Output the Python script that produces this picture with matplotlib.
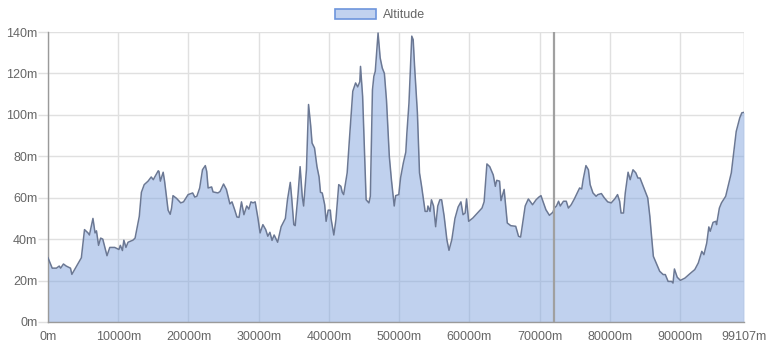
import matplotlib
matplotlib.use("Agg")
import matplotlib.pyplot as plt
from matplotlib.patches import Patch
from matplotlib.ticker import FixedLocator, FuncFormatter

plt.rcParams['font.family'] = ['Liberation Sans', 'DejaVu Sans']

# distance along route (km) and altitude (m)
dist_km = [0, 0.6, 1.2, 1.6, 1.8, 2.2, 2.6, 3.2, 3.4, 4.75, 5.2, 5.7, 5.9, 6.4, 6.7, 6.9,
           7.2, 7.5, 7.8, 8.4, 8.8, 9.5, 10.1, 10.3, 10.6, 10.8, 11.1, 11.4, 12.1, 12.4,
           13.0, 13.3, 13.7, 14.25, 14.7, 15.0, 15.2, 15.7, 15.8, 16.0, 16.4, 16.6, 17.1,
           17.4, 17.6, 17.8, 18.3, 18.9, 19.3, 19.95, 20.6, 20.9, 21.2, 21.6, 22.0, 22.4,
           22.6, 22.8, 23.3, 23.5, 24.2, 24.5, 25.0, 25.4, 25.9, 26.2, 26.6, 26.9, 27.2,
           27.55, 27.9, 28.3, 28.6, 28.9, 29.2, 29.5, 29.9, 30.2, 30.6, 31.0, 31.3, 31.6,
           31.9, 32.2, 32.7, 33.2, 33.8, 34.1, 34.5, 34.7, 35.0, 35.2, 35.6, 35.9, 36.2,
           36.4, 36.8, 37.1, 37.4, 37.6, 37.95, 38.3, 38.6, 38.8, 39.05, 39.4, 39.6, 39.9,
           40.2, 40.3, 40.7, 41.0, 41.4, 41.7, 41.9, 42.1, 42.6, 42.95, 43.4, 43.8, 44.1,
           44.4, 44.5, 44.8, 45.1, 45.3, 45.7, 45.9, 46.2, 46.4, 46.6, 47.0, 47.3, 47.6,
           47.9, 48.2, 48.6, 48.9, 49.3, 49.5, 49.95, 50.2, 50.6, 50.95, 51.1, 51.4, 51.8,
           52.0, 52.2, 52.6, 52.9, 53.2, 53.7, 54.0, 54.1, 54.4, 54.6, 54.9, 55.2, 55.5,
           55.8, 56.05, 56.4, 56.8, 57.1, 57.5, 57.95, 58.4, 58.8, 59.1, 59.4, 59.6, 59.9,
           60.5, 61.8, 62.1, 62.5, 62.9, 63.4, 63.7, 63.9, 64.3, 64.5, 64.95, 65.4, 65.9,
           66.6, 67.0, 67.3, 67.95, 68.4, 69.0, 69.5, 69.9, 70.2, 70.4, 70.9, 71.4, 71.9,
           72.1, 72.4, 72.7, 72.95, 73.4, 73.8, 74.1, 74.5, 74.95, 75.4, 75.7, 76.0, 76.2,
           76.6, 76.95, 77.2, 77.6, 78.05, 78.3, 78.8, 79.2, 79.7, 80.2, 80.7, 81.1, 81.4,
           81.6, 81.95, 82.2, 82.6, 82.9, 83.3, 83.7, 84.0, 84.3, 84.8, 85.4, 85.7, 85.9,
           86.2, 86.6, 87.1, 87.6, 87.9, 88.3, 88.8, 89.0, 89.2, 89.6, 90.05, 90.7, 91.4,
           92.1, 92.6, 93.1, 93.4, 93.8, 94.1, 94.3, 94.7, 95.1, 95.2, 95.6, 95.9, 96.5,
           97.0, 97.3, 97.7, 98.0, 98.5, 98.8, 99.107]
altitude = [31, 26, 26, 27, 26, 28, 27, 26, 23, 31, 44.6, 43, 42, 50, 43, 44,
            37, 40.5, 40, 32, 36, 36, 35, 37, 34.5, 39.5, 36, 38.5, 39.5, 40.5,
            51, 62.6, 66.3, 68, 70, 68.7, 70, 73, 72.7, 68, 72.3, 68, 54,
            52, 55, 61, 59.7, 57.5, 58, 61.5, 62.3, 60.3, 60.7, 64.7, 73.5, 75.5,
            72.7, 64.7, 65.2, 62.8, 62.3, 63, 66.6, 64, 57, 58, 54, 50.7, 50.5,
            58, 51.8, 56, 54.5, 58, 57.5, 58, 50, 43, 47, 44.6, 41.4, 43.3,
            39.4, 42, 38.5, 46, 50, 59, 67.4, 60, 47, 46.5, 61.5, 75, 60.7,
            56, 73.5, 105, 95, 86.4, 84, 75, 70, 62.6, 62.3, 56.6, 48.6, 54,
            54, 50, 42, 49.4, 66.3, 65.5, 62.6, 61.5, 72, 89.6, 111.4, 115.4, 113.5,
            116, 123.4, 109, 78.4, 59, 57.5, 60.7, 112, 118.6, 121, 139.5, 127.5, 122.6,
            120, 107, 80, 68.7, 56, 61, 61.5, 69.5, 76.8, 82, 91, 105.7, 138,
            136.3, 123.4, 101, 72, 65.5, 53.4, 53.4, 56, 53.4, 59, 56, 46, 56,
            59, 59, 51.3, 39.7, 34.6, 39.7, 50, 55.5, 58, 51.8, 52.6, 59.4, 48.6,
            50.2, 55, 58, 76.3, 75, 71, 65.5, 68.4, 68, 58.6, 64, 47.8, 46.5,
            46.2, 41.4, 41, 56, 59.4, 56.6, 59, 60.3, 61, 59, 54.2, 51.5, 53,
            55, 56, 58.3, 56, 58.3, 58.3, 55, 56.6, 59.4, 62.6, 64.7, 64.2, 68.7,
            75.5, 73.5, 66.3, 62.3, 60.7, 61.5, 62, 60, 58, 57.5, 59.4, 61.5, 58.3,
            52.6, 52.6, 62.3, 72.3, 68.7, 73.5, 72, 69.5, 69.5, 65.2, 59.9, 51, 43,
            31.7, 28.5, 24.5, 22.9, 22.9, 19.6, 19.6, 18.8, 25.6, 21.6, 20.1, 21.2, 23.3,
            25.3, 28.5, 34.1, 32.5, 38.1, 45.9, 43.8, 48.1, 48.6, 47, 55, 57.5, 60.7,
            67.9, 72, 83.2, 92, 98.5, 101, 101.2]
total_m = 99107
x_ticks = [0, 10000, 20000, 30000, 40000, 50000, 60000, 70000, 80000, 90000, 99107]
y_ticks = [0, 20, 40, 60, 80, 100, 120, 140]
marker_m = 72100
series_label = "Altitude"

dist_m = [d * 1000 for d in dist_km]

fig = plt.figure(figsize=(7.7, 3.5), dpi=100)
ax = fig.add_axes([48 / 770, 28 / 350, 696 / 770, 290 / 350])

legend_fill = '#c1d2ef'
fill_rgba = (0.51, 0.647, 0.875, 0.5)
line_c = '#6b7894'
grid_c = '#e0e0e0'
ax.fill_between(dist_m, altitude, 0, color=fill_rgba, lw=0, zorder=2)
ax.plot(dist_m, altitude, color=line_c, lw=1.1, zorder=3)
ax.axvline(marker_m, color='#a0a0a0', lw=1.6, zorder=4)

ax.set_xlim(0, total_m)
ax.set_ylim(0, 140)
ax.xaxis.set_major_locator(FixedLocator(x_ticks))
ax.yaxis.set_major_locator(FixedLocator(y_ticks))
ax.xaxis.set_major_formatter(FuncFormatter(lambda v, p: f"{int(round(v))}m"))
ax.yaxis.set_major_formatter(FuncFormatter(lambda v, p: f"{int(round(v))}m"))

ax.grid(True, color=grid_c, lw=1, zorder=1)
ax.set_axisbelow(True)
for s in ['top', 'right']:
    ax.spines[s].set_visible(False)
ax.spines['left'].set_color('#9a9a9a')
ax.spines['bottom'].set_color('#9a9a9a')
ax.spines['left'].set_linewidth(1)
ax.spines['bottom'].set_linewidth(1)
ax.axvline(total_m, color=grid_c, lw=1, zorder=1)

ax.tick_params(axis='y', colors=grid_c, labelcolor='#666666', labelsize=9,
               length=7.2, width=1, pad=0.5)
ax.tick_params(axis='x', colors=grid_c, labelcolor='#666666', labelsize=9,
               length=0, width=1, pad=6.5)

handle = Patch(facecolor=legend_fill, edgecolor='#6d95dc', lw=1.2, label=series_label)
fig.legend(handles=[handle], loc='center', bbox_to_anchor=(380 / 770, 1 - 15 / 350),
           frameon=False, fontsize=9, handlelength=3.3, handleheight=0.95,
           handletextpad=0.5, labelcolor='#666666', borderpad=0)

fig.savefig('out.png', dpi=100)
